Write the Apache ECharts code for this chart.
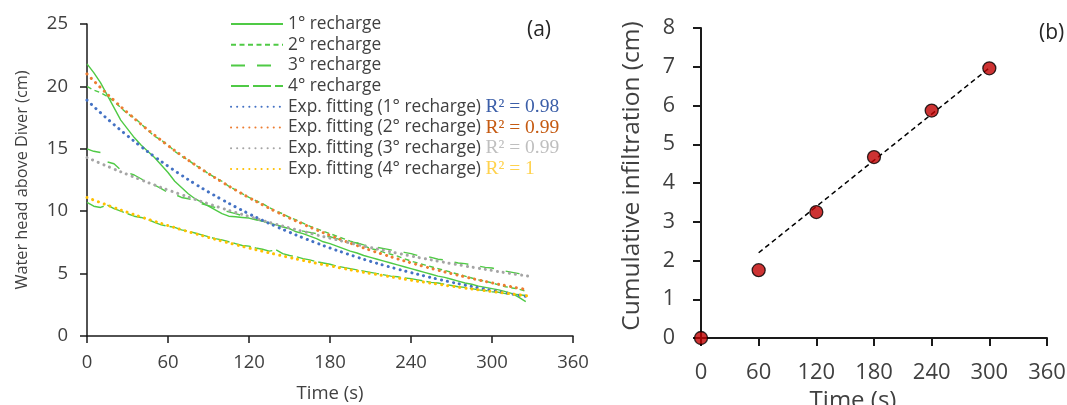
<!DOCTYPE html>
<html>
<head>
<meta charset="utf-8">
<script src="https://cdn.jsdelivr.net/npm/echarts@6/dist/echarts.min.js"></script>
<style>
html,body{margin:0;padding:0;background:#fff;}
#chart{width:1067px;height:405px;}
</style>
</head>
<body>
<div id="chart"></div>
<script>
// ---------- Panel (a) data ----------
var dataT = [0,5,10,15,20,25,30,35,40,45,50,55,60,65,70,75,80,85,90,95,100,105,110,115,120,125,130,135,140,145,150,155,160,165,170,175,180,185,190,195,200,205,210,215,220,225,230,235,240,245,250,255,260,265,270,275,280,285,290,295,300,305,310,315,320,325];
var recharge1 = [21.8,21.1,20.3,19.3,18.3,17.3,16.6,15.9,15.3,14.8,14.3,13.7,13.1,12.4,11.9,11.4,11.0,10.7,10.4,10.1,9.8,9.6,9.55,9.5,9.45,9.3,9.2,9.05,8.9,8.75,8.6,8.35,8.2,8.0,7.8,7.55,7.4,7.2,7.0,6.8,6.65,6.45,6.3,6.15,6.0,5.85,5.7,5.55,5.4,5.25,5.1,4.95,4.8,4.7,4.55,4.4,4.25,4.15,4.0,3.9,3.8,3.7,3.55,3.4,3.1,2.75];
var recharge2 = [20.0,19.7,19.5,19.2,18.8,18.3,17.8,17.5,17.0,16.5,16.0,15.7,15.3,14.8,14.4,14.1,13.7,13.4,13.0,12.7,12.4,12.0,11.7,11.4,11.1,10.85,10.6,10.3,10.0,9.8,9.5,9.3,9.05,8.8,8.6,8.4,8.2,8.0,7.8,7.6,7.45,7.25,7.0,6.9,6.7,6.55,6.4,6.2,6.0,5.85,5.7,5.55,5.4,5.25,5.1,4.95,4.8,4.65,4.5,4.4,4.25,4.1,3.95,3.85,3.75,3.6];
var recharge3 = [15.0,14.8,14.7,13.95,13.8,13.3,13.1,12.9,12.6,12.3,12.1,11.8,11.5,11.35,11.1,11.0,10.85,10.6,10.45,10.3,10.1,9.95,9.8,9.65,9.5,9.35,9.2,9.05,8.9,8.75,8.6,8.5,8.4,8.3,8.2,8.0,7.95,7.8,7.65,7.55,7.45,7.3,7.2,7.1,7.0,6.9,6.8,6.7,6.6,6.45,6.4,6.3,6.15,6.1,5.95,5.85,5.8,5.7,5.6,5.5,5.45,5.3,5.2,5.1,5.0,4.8];
var recharge4 = [10.7,10.4,10.3,10.5,10.2,10.0,9.8,9.6,9.5,9.35,9.1,8.9,8.8,8.7,8.5,8.4,8.25,8.1,7.95,7.8,7.7,7.55,7.4,7.25,7.2,7.05,6.95,6.8,6.9,6.6,6.45,6.35,6.2,6.1,5.95,5.85,5.75,5.6,5.5,5.4,5.3,5.2,5.1,5.0,4.9,4.8,4.75,4.65,4.6,4.5,4.4,4.3,4.25,4.15,4.05,3.95,3.9,3.8,3.7,3.65,3.55,3.5,3.4,3.35,3.3,3.25];

var fitT = [0,10,20,30,40,50,60,70,80,90,100,110,120,130,140,150,160,170,180,190,200,210,220,230,240,250,260,270,280,290,300,310,320,327];
var fit1 = [18.9,17.89,16.94,16.04,15.18,14.37,13.61,12.88,12.19,11.54,10.93,10.35,9.79,9.27,8.78,8.31,7.87,7.45,7.05,6.68,6.32,5.98,5.66,5.36,5.08,4.81,4.55,4.31,4.08,3.86,3.65,3.46,3.27,3.15];
var fit2 = [21.0,19.91,18.88,17.90,16.97,16.10,15.26,14.47,13.72,13.01,12.34,11.70,11.09,10.52,9.97,9.46,8.97,8.50,8.06,7.64,7.25,6.87,6.52,6.18,5.86,5.56,5.27,5.00,4.74,4.49,4.26,4.04,3.83,3.69];
var fit3 = [14.3,13.83,13.38,12.94,12.51,12.10,11.70,11.32,10.95,10.59,10.24,9.90,9.58,9.26,8.96,8.66,8.38,8.10,7.84,7.58,7.33,7.09,6.86,6.63,6.41,6.20,6.00,5.80,5.61,5.43,5.25,5.07,4.91,4.80];
var fit4 = [11.1,10.69,10.29,9.91,9.54,9.19,8.85,8.52,8.20,7.90,7.60,7.32,7.05,6.79,6.54,6.29,6.06,5.83,5.62,5.41,5.21,5.01,4.83,4.65,4.47,4.31,4.15,3.99,3.84,3.70,3.56,3.43,3.30,3.21];

var rechargeNames = ['1° recharge','2° recharge','3° recharge','4° recharge'];
var fitNames = ['Exp. fitting (1° recharge)','Exp. fitting (2° recharge)','Exp. fitting (3° recharge)','Exp. fitting (4° recharge)'];
var r2Values = ['0.98','0.99','0.99','1'];

// ---------- Panel (b) data ----------
var infT = [0,60,120,180,240,300];
var infil = [0,1.75,3.25,4.67,5.87,6.96];
var trendT = [60,300];
var trendV = [2.2,6.97];

function pairs(xs, ys){ return xs.map(function(x,i){ return [x, ys[i]]; }); }

var FONT = 'Open Sans';
var TXT = '#404040';
var GREEN = '#4fca45';
var fitColors = ['#4472C4','#ED7D31','#A5A5A5','#FFC000'];
var r2Colors = ['#3b5ea8','#c55a11','#bfbfbf','#ffd24d'];
var dashTypes = ['solid',[5,3.5],[14,12],[18,4]];

var chart = echarts.init(document.getElementById('chart'), null, {renderer:'canvas'});

var series = [];
var recData = [recharge1,recharge2,recharge3,recharge4];
var fitData = [fit1,fit2,fit3,fit4];
for (var i=0;i<4;i++){
  series.push({
    name: rechargeNames[i], type:'line', xAxisIndex:0, yAxisIndex:0,
    data: pairs(dataT, recData[i]), symbol:'none', smooth:false,
    lineStyle:{color:GREEN, width:1.4, type: dashTypes[i]},
    itemStyle:{color:GREEN}, z:2
  });
}
for (var j=0;j<4;j++){
  series.push({
    name: fitNames[j], type:'line', xAxisIndex:0, yAxisIndex:0,
    data: pairs(fitT, fitData[j]), symbol:'none', smooth:true,
    lineStyle:{color:fitColors[j], width:3, type:[0.1,6], cap:'round'},
    itemStyle:{color:fitColors[j]}, z:3
  });
}
series.push({
  type:'line', xAxisIndex:1, yAxisIndex:1, data: pairs(trendT, trendV), symbol:'none',
  lineStyle:{color:'#000', width:1.5, type:[5,3.5]}, z:2
});
series.push({
  type:'scatter', xAxisIndex:1, yAxisIndex:1, data: pairs(infT, infil),
  symbol:'circle', symbolSize:13, clip:false,
  itemStyle:{color:'#C00000', borderColor:'#000', borderWidth:1.3}, z:5
});

var rich = { t:{fontFamily:FONT, fontSize:17.3, color:TXT, lineHeight:20} };
for (var k=0;k<4;k++){
  rich['r'+k] = {fontFamily:'Liberation Serif', fontSize:19.5, color:r2Colors[k], lineHeight:20};
}

var axisLineStyle = {color:'#1a1a1a', width:1.5};

var option = {
  backgroundColor:'#fff',
  animation:false,
  grid:[
    {left:87, right:494, top:24, bottom:69, outerBoundsMode:'none', containLabel:false},
    {left:701, right:20, top:28, bottom:67, outerBoundsMode:'none', containLabel:false}
  ],
  xAxis:[
    {gridIndex:0, type:'value', min:0, max:360, interval:60,
     name:'Time (s)', nameLocation:'middle', nameGap:48,
     nameTextStyle:{fontFamily:FONT, fontSize:18.5, color:TXT},
     axisLine:{show:true, onZero:false, lineStyle:axisLineStyle},
     axisTick:{show:true, length:7, lineStyle:axisLineStyle},
     axisLabel:{fontFamily:FONT, fontSize:18.5, color:TXT, margin:17},
     splitLine:{show:false}},
    {gridIndex:1, type:'value', min:0, max:360, interval:60,
     name:'Time (s)', nameLocation:'middle', nameGap:49,
     nameTextStyle:{fontFamily:FONT, fontSize:24, color:TXT, padding:[0,42,0,0]},
     axisLine:{show:true, onZero:false, lineStyle:{color:'#1a1a1a', width:2}},
     axisTick:{show:true, length:8, lineStyle:{color:'#1a1a1a', width:2}},
     axisLabel:{fontFamily:FONT, fontSize:22, color:TXT, margin:24},
     splitLine:{show:false}}
  ],
  yAxis:[
    {gridIndex:0, type:'value', min:0, max:25, interval:5,
     name:'Water head above Diver (cm)', nameLocation:'middle', nameGap:57,
     nameTextStyle:{fontFamily:FONT, fontSize:16.3, color:TXT},
     axisLine:{show:true, onZero:false, lineStyle:axisLineStyle},
     axisTick:{show:true, length:7, lineStyle:axisLineStyle},
     axisLabel:{fontFamily:FONT, fontSize:18.5, color:TXT, margin:19},
     splitLine:{show:false}},
    {gridIndex:1, type:'value', min:0, max:8, interval:1,
     name:'Cumulative infiltration (cm)', nameLocation:'middle', nameGap:56,
     nameTextStyle:{fontFamily:FONT, fontSize:24.5, color:TXT, padding:[0,0,0,14]},
     axisLine:{show:true, onZero:false, lineStyle:{color:'#1a1a1a', width:2}},
     axisTick:{show:true, length:8, lineStyle:{color:'#1a1a1a', width:2}},
     axisLabel:{fontFamily:FONT, fontSize:21.5, color:TXT, margin:26},
     splitLine:{show:false}}
  ],
  legend:{
    left:230, top:14, orient:'vertical', padding:0,
    itemWidth:52, itemHeight:20.8, itemGap:0.7,
    itemStyle:{opacity:0},
    data: rechargeNames.concat(fitNames),
    textStyle:{fontFamily:FONT, fontSize:17.3, color:TXT, lineHeight:20, rich:rich},
    formatter:function(name){
      var idx = fitNames.indexOf(name);
      if (idx >= 0) return '{t|' + name + '} {r' + idx + '|R² = ' + r2Values[idx] + '}';
      return '{t|' + name + '}';
    }
  },
  graphic:[
    {type:'text', left:527, top:20, style:{text:'(a)', font:'21px "Open Sans"', fill:'#262626'}},
    {type:'text', left:1039, top:23, style:{text:'(b)', font:'21px "Open Sans"', fill:'#262626'}}
  ],
  series: series
};
chart.setOption(option);
</script>
</body>
</html>
